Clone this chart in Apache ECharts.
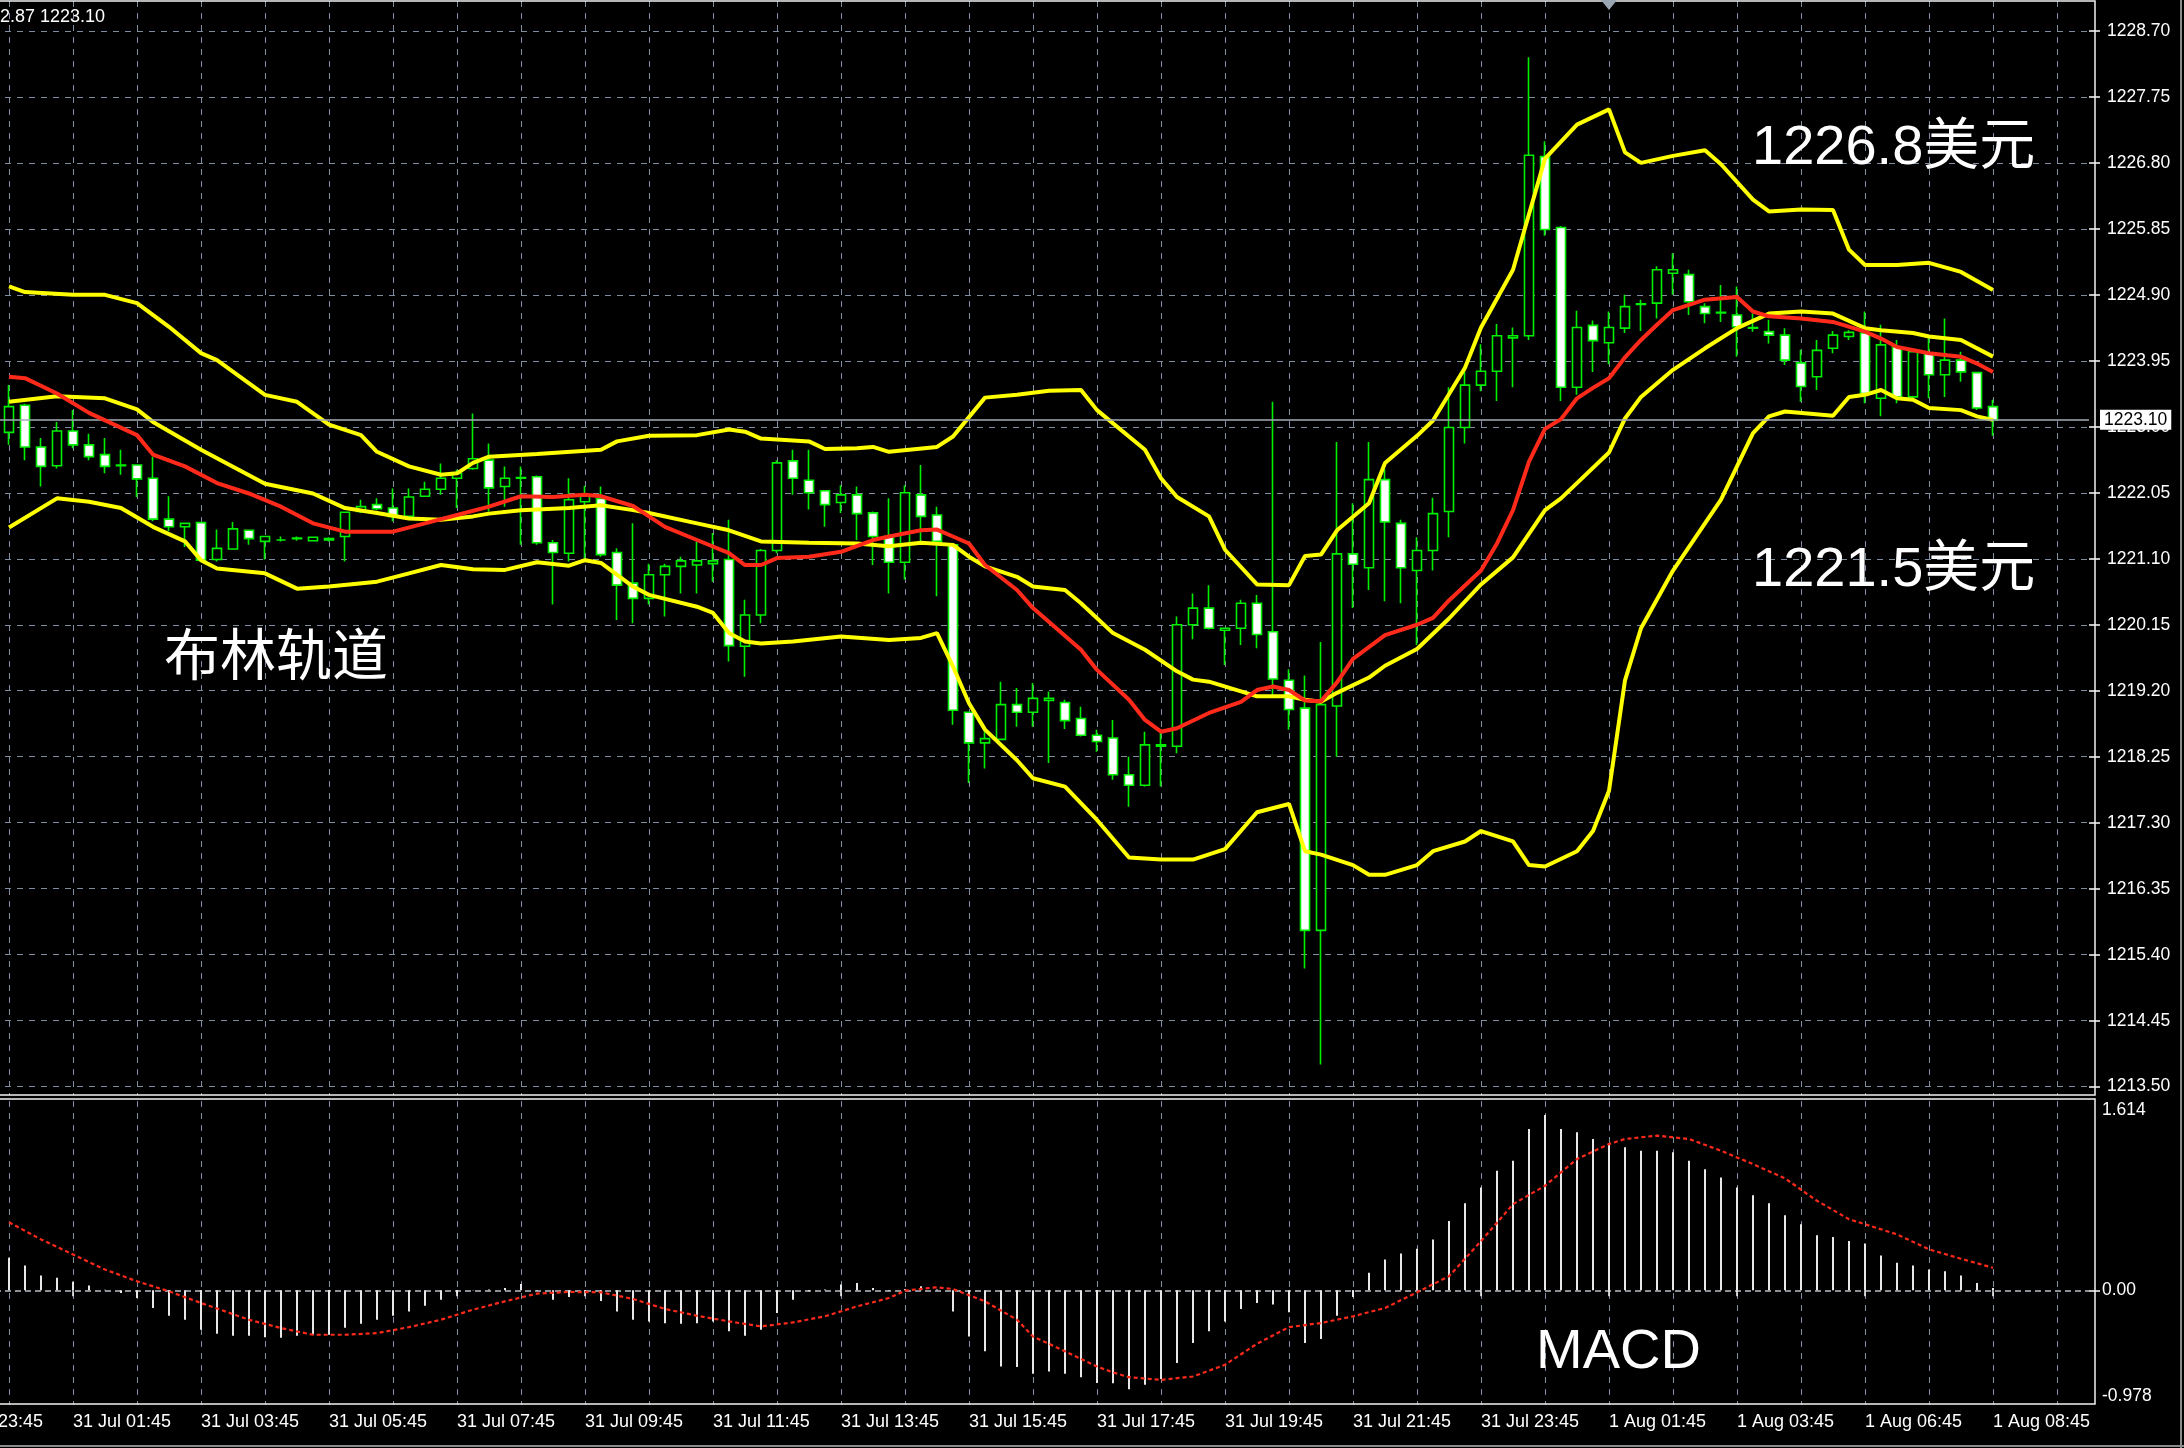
<!DOCTYPE html>
<html><head><meta charset="utf-8">
<script src="https://cdn.jsdelivr.net/npm/echarts@6/dist/echarts.min.js"></script>
<style>html,body{margin:0;padding:0;background:#000;}#c{width:2184px;height:1448px;}</style>
</head><body><div id="c"></div>
<script>
// ---- tick labels ----
const tickLabels = ['30 Jul 23:45','31 Jul 01:45','31 Jul 03:45','31 Jul 05:45','31 Jul 07:45','31 Jul 09:45','31 Jul 11:45','31 Jul 13:45','31 Jul 15:45','31 Jul 17:45','31 Jul 19:45','31 Jul 21:45','31 Jul 23:45','1 Aug 01:45','1 Aug 03:45','1 Aug 06:45','1 Aug 08:45'];
const priceTicks = [1213.50,1214.45,1215.40,1216.35,1217.30,1218.25,1219.20,1220.15,1221.10,1222.05,1223.00,1223.95,1224.90,1225.85,1226.80,1227.75,1228.70];
const macdTicks = [-0.978, 0, 1.614];

// ---- candles (bar 0 = 31 Jul 00:45) ----
const opens = [1222.92,1223.31,1222.71,1222.44,1222.94,1222.74,1222.60,1222.44,1222.45,1222.26,
1221.67,1221.56,1221.62,1221.09,1221.24,1221.51,1221.35,1221.37,1221.40,1221.36,
1221.37,1221.42,1221.78,1221.88,1221.83,1221.71,1222.00,1222.10,1222.26,1222.40,
1222.52,1222.14,1222.26,1222.28,1221.33,1221.18,1221.92,1221.97,1221.19,1220.75,
1220.53,1220.87,1220.99,1221.01,1221.03,1221.09,1219.84,1220.29,1221.22,1222.51,
1222.23,1222.08,1221.91,1222.02,1221.76,1221.42,1221.05,1222.02,1221.73,1221.30,
1218.89,1218.45,1218.50,1219.00,1218.89,1219.06,1219.03,1218.80,1218.56,1218.52,
1217.99,1217.84,1218.40,1218.40,1220.15,1220.39,1220.07,1220.10,1220.46,1220.05,
1219.35,1218.95,1215.75,1218.98,1221.17,1220.97,1222.24,1221.61,1220.93,1221.22,
1221.78,1222.99,1223.60,1223.80,1224.28,1224.31,1226.89,1225.87,1223.57,1224.46,
1224.21,1224.42,1224.76,1224.78,1225.21,1225.19,1224.73,1224.64,1224.61,1224.42,
1224.37,1224.32,1223.92,1223.72,1224.13,1224.30,1224.35,1223.41,1224.15,1223.43,
1224.06,1223.75,1223.96,1223.78,1223.29];
const highs = [1223.60,1223.33,1222.84,1223.07,1223.24,1222.90,1222.84,1222.67,1222.46,1222.57,
1222.00,1221.62,1221.63,1221.52,1221.63,1221.52,1221.43,1221.42,1221.42,1221.42,
1221.41,1221.78,1221.95,1221.97,1222.11,1222.11,1222.21,1222.47,1222.38,1223.19,
1222.76,1222.43,1222.43,1222.30,1221.37,1222.26,1222.15,1222.14,1221.25,1221.61,
1221.03,1221.03,1221.13,1221.35,1221.47,1221.66,1220.51,1221.24,1222.52,1222.67,
1222.67,1222.09,1222.16,1222.14,1221.78,1221.97,1222.16,1222.45,1221.85,1221.32,
1218.90,1218.64,1219.33,1219.24,1219.31,1219.19,1219.07,1218.97,1218.64,1218.78,
1218.25,1218.61,1218.59,1220.27,1220.60,1220.72,1220.10,1220.51,1220.58,1223.36,
1219.51,1219.42,1219.90,1222.78,1221.90,1222.78,1222.39,1221.66,1221.41,1221.98,
1223.57,1223.85,1224.19,1224.48,1224.43,1228.32,1227.11,1225.89,1224.67,1224.53,
1224.66,1224.90,1224.83,1225.31,1225.50,1225.26,1224.78,1225.04,1225.02,1224.63,
1224.54,1224.42,1224.11,1224.25,1224.38,1224.39,1224.66,1224.47,1224.25,1224.11,
1224.32,1224.56,1224.08,1223.79,1223.39];
const lows = [1222.74,1222.52,1222.14,1222.40,1222.69,1222.52,1222.33,1222.31,1221.99,1221.64,
1221.50,1221.27,1221.06,1221.06,1221.23,1221.30,1221.09,1221.35,1221.36,1221.35,
1221.35,1221.06,1221.76,1221.80,1221.64,1221.68,1221.99,1222.02,1221.83,1222.38,
1221.78,1221.85,1221.30,1221.30,1220.44,1221.06,1221.08,1221.13,1220.22,1220.17,
1220.44,1220.27,1220.60,1220.60,1220.77,1219.62,1219.40,1220.17,1221.18,1222.02,
1221.81,1221.56,1221.76,1221.37,1221.01,1220.60,1220.80,1221.32,1220.56,1218.71,
1217.87,1218.08,1218.49,1218.68,1218.68,1218.16,1218.65,1218.54,1218.32,1217.92,
1217.53,1217.82,1217.82,1218.30,1219.94,1220.08,1219.57,1219.86,1219.81,1219.10,
1218.64,1215.20,1213.82,1218.25,1220.39,1220.65,1220.49,1220.46,1219.86,1220.93,
1221.41,1222.76,1223.51,1223.37,1223.57,1224.25,1225.75,1223.37,1223.46,1223.79,
1223.90,1224.35,1224.38,1224.56,1224.90,1224.61,1224.49,1224.51,1224.01,1224.37,
1224.20,1223.89,1223.36,1223.53,1224.06,1224.25,1223.34,1223.15,1223.34,1223.39,
1223.41,1223.43,1223.65,1223.24,1222.87];
const closes = [1223.29,1222.71,1222.43,1222.94,1222.74,1222.57,1222.43,1222.45,1222.25,1221.67,
1221.56,1221.61,1221.08,1221.25,1221.53,1221.39,1221.42,1221.37,1221.39,1221.41,
1221.39,1221.77,1221.85,1221.82,1221.71,1221.99,1222.10,1222.26,1222.33,1222.54,
1222.12,1222.26,1222.27,1221.33,1221.19,1221.95,1222.00,1221.16,1220.72,1220.53,
1220.87,1220.99,1221.07,1221.07,1221.07,1219.85,1220.29,1221.22,1222.48,1222.26,
1222.05,1221.88,1222.02,1221.75,1221.42,1221.05,1222.05,1221.71,1221.35,1218.92,
1218.45,1218.51,1219.00,1218.89,1219.09,1219.09,1218.77,1218.56,1218.47,1217.99,
1217.84,1218.42,1218.42,1220.15,1220.39,1220.10,1220.10,1220.46,1220.01,1219.37,
1218.93,1215.75,1219.00,1221.17,1221.02,1222.24,1221.63,1220.97,1221.22,1221.75,
1222.99,1223.60,1223.80,1224.31,1224.31,1226.91,1225.84,1223.57,1224.43,1224.24,
1224.43,1224.73,1224.77,1225.26,1225.26,1224.80,1224.63,1224.65,1224.44,1224.43,
1224.32,1223.96,1223.58,1224.10,1224.32,1224.36,1223.48,1224.18,1223.43,1224.08,
1223.75,1223.96,1223.79,1223.27,1223.10];

// ---- indicator lines, [bar, value] ----
const upperBand = [[0,1225.02],[1,1224.94],[4,1224.90],[6,1224.90],[8,1224.78],[10,1224.44],[12,1224.06],[13,1223.96],[16,1223.46],[18,1223.36],[20,1223.03],[22,1222.88],[23,1222.64],[25,1222.43],[27,1222.31],[28,1222.33],[29,1222.48],[30,1222.57],[33,1222.61],[37,1222.67],[38,1222.79],[40,1222.87],[43,1222.88],[45,1222.96],[46,1222.93],[47,1222.83],[50,1222.79],[51,1222.68],[53,1222.69],[54,1222.71],[55,1222.64],[58,1222.71],[59,1222.86],[61,1223.42],[63,1223.46],[65,1223.52],[67,1223.53],[68,1223.24],[71,1222.67],[72,1222.26],[73,1221.99],[75,1221.71],[76,1221.23],[78,1220.73],[80,1220.72],[81,1221.14],[82,1221.16],[83,1221.51],[85,1221.90],[86,1222.48],[88,1222.87],[89,1223.09],[91,1223.85],[92,1224.43],[94,1225.26],[96,1226.86],[98,1227.35],[100,1227.57],[101,1226.95],[102,1226.80],[104,1226.90],[106,1226.98],[107,1226.78],[109,1226.27],[110,1226.10],[112,1226.13],[114,1226.12],[115,1225.55],[116,1225.33],[118,1225.33],[120,1225.36],[122,1225.23],[124,1224.97]];
const middleBand = [[0,1223.36],[3,1223.44],[6,1223.41],[8,1223.25],[9,1223.07],[12,1222.67],[16,1222.18],[19,1222.04],[21,1221.83],[23,1221.76],[25,1221.68],[27,1221.66],[29,1221.71],[30,1221.75],[32,1221.80],[35,1221.83],[37,1221.87],[39,1221.80],[40,1221.76],[43,1221.61],[45,1221.51],[47,1221.35],[50,1221.33],[53,1221.32],[55,1221.28],[57,1221.33],[59,1221.30],[60,1221.13],[61,1220.99],[63,1220.84],[64,1220.70],[66,1220.65],[67,1220.46],[69,1220.03],[71,1219.79],[73,1219.48],[74,1219.36],[75,1219.33],[77,1219.19],[78,1219.12],[80,1219.12],[81,1219.07],[82,1219.04],[83,1219.17],[85,1219.39],[86,1219.56],[88,1219.80],[90,1220.24],[92,1220.73],[94,1221.12],[96,1221.80],[97,1221.97],[100,1222.63],[101,1223.12],[102,1223.43],[104,1223.82],[106,1224.13],[108,1224.42],[110,1224.63],[112,1224.66],[114,1224.63],[116,1224.42],[117,1224.39],[119,1224.35],[120,1224.30],[122,1224.25],[124,1224.01]];
const lowerBand = [[0,1221.55],[3,1221.97],[5,1221.92],[7,1221.83],[9,1221.56],[11,1221.35],[12,1221.08],[13,1220.96],[16,1220.89],[18,1220.67],[20,1220.70],[23,1220.77],[25,1220.89],[27,1221.01],[29,1220.95],[31,1220.94],[33,1221.05],[35,1221.00],[36,1221.08],[37,1221.04],[39,1220.70],[40,1220.58],[43,1220.41],[44,1220.32],[45,1220.03],[46,1219.91],[47,1219.88],[49,1219.91],[52,1219.98],[55,1219.93],[57,1219.96],[58,1220.03],[59,1219.55],[60,1219.02],[61,1218.64],[63,1218.20],[64,1217.94],[66,1217.82],[68,1217.34],[70,1216.80],[72,1216.77],[74,1216.77],[76,1216.92],[78,1217.45],[80,1217.57],[81,1216.89],[82,1216.84],[84,1216.69],[85,1216.55],[86,1216.55],[88,1216.69],[89,1216.89],[91,1217.03],[92,1217.18],[94,1217.03],[95,1216.69],[96,1216.67],[98,1216.89],[99,1217.18],[100,1217.76],[101,1219.35],[102,1220.10],[104,1220.93],[107,1221.95],[109,1222.91],[110,1223.15],[111,1223.22],[114,1223.16],[115,1223.43],[116,1223.46],[117,1223.53],[118,1223.41],[119,1223.39],[120,1223.27],[122,1223.24],[123,1223.15],[124,1223.10]];
const maLine = [[0,1223.72],[1,1223.70],[3,1223.48],[5,1223.20],[8,1222.88],[9,1222.60],[11,1222.43],[13,1222.19],[15,1222.04],[17,1221.85],[19,1221.61],[21,1221.49],[24,1221.49],[26,1221.61],[28,1221.73],[30,1221.85],[32,1222.00],[34,1221.99],[36,1222.02],[37,1222.00],[39,1221.86],[40,1221.71],[41,1221.56],[43,1221.37],[45,1221.18],[46,1221.01],[47,1221.01],[48,1221.11],[50,1221.13],[52,1221.20],[54,1221.37],[55,1221.42],[57,1221.51],[58,1221.52],[59,1221.42],[60,1221.32],[61,1221.01],[63,1220.65],[64,1220.39],[67,1219.79],[68,1219.50],[70,1219.07],[71,1218.78],[72,1218.61],[73,1218.66],[75,1218.88],[77,1219.04],[78,1219.21],[79,1219.26],[80,1219.21],[81,1219.06],[82,1219.05],[83,1219.32],[84,1219.66],[86,1220.00],[88,1220.15],[89,1220.25],[90,1220.50],[92,1220.93],[93,1221.32],[94,1221.80],[95,1222.50],[96,1222.97],[97,1223.11],[98,1223.41],[99,1223.56],[100,1223.70],[101,1224.00],[102,1224.25],[103,1224.47],[104,1224.68],[106,1224.83],[108,1224.87],[109,1224.66],[110,1224.59],[112,1224.56],[114,1224.51],[116,1224.37],[117,1224.27],[118,1224.15],[120,1224.06],[122,1224.01],[123,1223.91],[124,1223.79]];

// ---- MACD ----
const macdHist = [0.277,0.211,0.126,0.106,0.072,0.040,0.005,-0.023,-0.066,-0.151,
-0.217,-0.251,-0.337,-0.371,-0.388,-0.388,-0.400,-0.405,-0.388,-0.379,
-0.379,-0.320,-0.285,-0.251,-0.217,-0.180,-0.131,-0.080,-0.028,0.002,
0.006,0.020,0.054,-0.003,-0.080,-0.057,-0.017,-0.091,-0.180,-0.251,
-0.265,-0.280,-0.285,-0.280,-0.265,-0.350,-0.388,-0.337,-0.194,-0.080,
-0.009,0.006,0.049,0.063,0.020,-0.003,0.010,0.034,0.006,-0.180,
-0.394,-0.520,-0.650,-0.655,-0.712,-0.692,-0.712,-0.741,-0.790,-0.792,
-0.843,-0.806,-0.757,-0.620,-0.450,-0.350,-0.265,-0.159,-0.108,-0.122,
-0.188,-0.450,-0.416,-0.217,-0.057,0.149,0.263,0.314,0.354,0.434,
0.591,0.742,0.876,1.019,1.104,1.375,1.495,1.375,1.347,1.290,
1.256,1.219,1.190,1.190,1.176,1.104,1.033,0.962,0.876,0.811,
0.742,0.640,0.563,0.469,0.454,0.420,0.400,0.297,0.235,0.211,
0.177,0.163,0.126,0.063,0.020];
const macdSignal = [[0,0.58],[2,0.434],[4,0.306],[6,0.177],[8,0.077],[10,-0.009],[12,-0.108],[15,-0.251],[17,-0.322],[19,-0.379],[21,-0.379],[23,-0.365],[25,-0.314],[27,-0.251],[29,-0.165],[31,-0.094],[33,-0.028],[35,-0.014],[37,-0.017],[39,-0.074],[41,-0.159],[43,-0.217],[45,-0.265],[47,-0.308],[49,-0.274],[51,-0.222],[53,-0.137],[55,-0.066],[56,-0.003],[58,0.026],[59,0.011],[61,-0.094],[63,-0.251],[64,-0.394],[66,-0.52],[68,-0.65],[69,-0.70],[70,-0.741],[72,-0.764],[74,-0.735],[76,-0.635],[78,-0.456],[80,-0.314],[82,-0.279],[84,-0.222],[86,-0.151],[88,-0.017],[90,0.120],[92,0.419],[94,0.734],[96,0.891],[98,1.119],[100,1.247],[101,1.290],[103,1.319],[105,1.290],[107,1.19],[109,1.076],[111,0.954],[113,0.763],[115,0.606],[118,0.477],[120,0.349],[122,0.269],[124,0.192]];

// ---- build ----
const LEAD = 4, NCAT = 135;
const cats = [];
for (let j = 0; j < NCAT; j++) cats.push(j % 8 === 0 && tickLabels[j / 8] ? tickLabels[j / 8] : 'bar' + j);
const candleData = [], histData = [];
for (let j = 0; j < NCAT; j++) {
  const i = j - LEAD;
  if (i >= 0 && i < opens.length) {
    candleData.push([opens[i], closes[i], lows[i], highs[i]]);
    histData.push(macdHist[i]);
  } else { candleData.push('-'); histData.push('-'); }
}
const shift = arr => arr.map(p => [p[0] + LEAD, p[1]]);
const last = opens.length - 1;
const lastPrice = closes[last];

const AX = '"Liberation Sans",sans-serif';
const GRID = '#7f8e9e';
const dash = [6, 6];

const chart = echarts.init(document.getElementById('c'), null, {renderer: 'canvas'});
chart.setOption({
  backgroundColor: '#000',
  animation: false,
  textStyle: {fontFamily: AX},
  grid: [
    {left: -55, top: 1, width: 2144, height: 1094, containLabel: false, outerBoundsMode: 'none'},
    {left: -55, top: 1101, width: 2144, height: 304, containLabel: false, outerBoundsMode: 'none'}
  ],
  xAxis: [
    {gridIndex: 0, type: 'category', data: cats, boundaryGap: false,
     axisLine: {show: false}, axisTick: {show: false}, axisLabel: {show: false},
     splitLine: {show: true, interval: idx => idx % 4 === 0, lineStyle: {color: GRID, type: dash, width: 1}}},
    {gridIndex: 1, type: 'category', data: cats, boundaryGap: false,
     axisLine: {show: false},
     axisTick: {show: true, interval: idx => idx % 8 === 0, length: 6, lineStyle: {color: '#fff', width: 1.5}},
     axisLabel: {show: true, interval: idx => idx % 8 === 0, align: 'left', color: '#fff', fontSize: 18, fontFamily: AX, margin: 8},
     splitLine: {show: true, interval: idx => idx % 4 === 0, lineStyle: {color: GRID, type: dash, width: 1}}}
  ],
  yAxis: [
    {gridIndex: 0, type: 'value', position: 'right', min: 1213.38, max: 1229.13,
     axisLine: {show: false},
     axisTick: {show: true, length: 11, customValues: priceTicks, lineStyle: {color: '#fff', width: 1.5}},
     axisLabel: {color: '#fff', fontSize: 17.5, fontFamily: AX, margin: 18, customValues: priceTicks, formatter: v => Number(v).toFixed(2)},
     splitLine: {show: true, lineStyle: {color: GRID, type: dash, width: 1}}},
    {gridIndex: 1, type: 'value', position: 'right', min: -0.978, max: 1.614,
     axisLine: {show: false},
     axisTick: {show: true, length: 11, customValues: [0], lineStyle: {color: '#fff', width: 1.5}},
     axisLabel: {color: '#fff', fontSize: 17.5, fontFamily: AX, margin: 13, customValues: macdTicks,
       verticalAlignMinLabel: 'bottom', verticalAlignMaxLabel: 'top',
       formatter: v => (Number(v) === 0 ? '0.00' : String(v))},
     splitLine: {show: true, lineStyle: {color: '#b8c0c8', type: [6, 4], width: 1.5}}}
  ],
  series: [
    {type: 'candlestick', xAxisIndex: 0, yAxisIndex: 0, data: candleData, barWidth: 10, z: 2,
     itemStyle: {color: '#000', color0: '#fff', borderColor: '#00ee00', borderColor0: '#00ee00', borderWidth: 1.6},
     markLine: {symbol: 'none', silent: true, animation: false,
       data: [{yAxis: lastPrice}],
       lineStyle: {color: '#a3acb6', type: 'solid', width: 1.5},
       label: {show: true, position: 'end', distance: 11, formatter: lastPrice.toFixed(2), backgroundColor: '#fff', color: '#000', padding: [1, 4], fontSize: 17.5, fontFamily: AX}}},
    {type: 'line', xAxisIndex: 0, yAxisIndex: 0, data: shift(upperBand), symbol: 'none', z: 4, lineStyle: {color: '#ffff00', width: 4}},
    {type: 'line', xAxisIndex: 0, yAxisIndex: 0, data: shift(middleBand), symbol: 'none', z: 4, lineStyle: {color: '#ffff00', width: 4}},
    {type: 'line', xAxisIndex: 0, yAxisIndex: 0, data: shift(lowerBand), symbol: 'none', z: 4, lineStyle: {color: '#ffff00', width: 4}},
    {type: 'line', xAxisIndex: 0, yAxisIndex: 0, data: shift(maLine), symbol: 'none', z: 5, lineStyle: {color: '#ff2a1a', width: 4}},
    {type: 'bar', xAxisIndex: 1, yAxisIndex: 1, data: histData, barWidth: 2, itemStyle: {color: '#e8e8e8'}},
    {type: 'line', xAxisIndex: 1, yAxisIndex: 1, data: shift(macdSignal), symbol: 'none', z: 5, lineStyle: {color: '#ff2a1a', width: 2.2, type: [4, 3]}}
  ],
  graphic: [
    {type: 'rect', silent: true, z: 100, shape: {x: -2, y: 1, width: 2097, height: 1094}, style: {fill: null, stroke: '#f2f2f2', lineWidth: 1.5}},
    {type: 'rect', silent: true, z: 100, shape: {x: -2, y: 1099, width: 2097, height: 305}, style: {fill: null, stroke: '#f2f2f2', lineWidth: 1.5}},
    {type: 'line', silent: true, z: 100, shape: {x1: 2181, y1: 0, x2: 2181, y2: 1448}, style: {stroke: '#8a8a8a', lineWidth: 2}},
    {type: 'line', silent: true, z: 100, shape: {x1: 0, y1: 1446, x2: 2184, y2: 1446}, style: {stroke: '#8a8a8a', lineWidth: 2}},
    {type: 'polygon', silent: true, z: 100, shape: {points: [[1601, 0], [1617, 0], [1609, 10]]}, style: {fill: '#9aa6b2'}},
    {type: 'text', silent: true, z: 100, style: {text: opens[last].toFixed(2) + ' ' + highs[last].toFixed(2) + ' ' + lows[last].toFixed(2) + ' ' + closes[last].toFixed(2),
      x: 105, y: 17, textAlign: 'right', textVerticalAlign: 'middle', align: 'right', verticalAlign: 'middle', fill: '#fff', font: '18px ' + AX}},
    {type: 'text', silent: true, z: 100, style: {text: '布林轨道', x: 164, y: 654, textVerticalAlign: 'middle', verticalAlign: 'middle', fill: '#fff', font: '56px "Noto Sans CJK SC"'}},
    {type: 'text', silent: true, z: 100, style: {text: '1226.8美元', x: 1752, y: 149, textVerticalAlign: 'middle', verticalAlign: 'middle', fill: '#fff', font: '56px "Liberation Sans","Noto Sans CJK SC",sans-serif'}},
    {type: 'text', silent: true, z: 100, style: {text: '1221.5美元', x: 1752, y: 571, textVerticalAlign: 'middle', verticalAlign: 'middle', fill: '#fff', font: '56px "Liberation Sans","Noto Sans CJK SC",sans-serif'}},
    {type: 'text', silent: true, z: 100, style: {text: 'MACD', x: 1536, y: 1353, textVerticalAlign: 'middle', verticalAlign: 'middle', fill: '#fff', font: '56px "Liberation Sans",sans-serif'}}
  ]
});
</script>
</body></html>
